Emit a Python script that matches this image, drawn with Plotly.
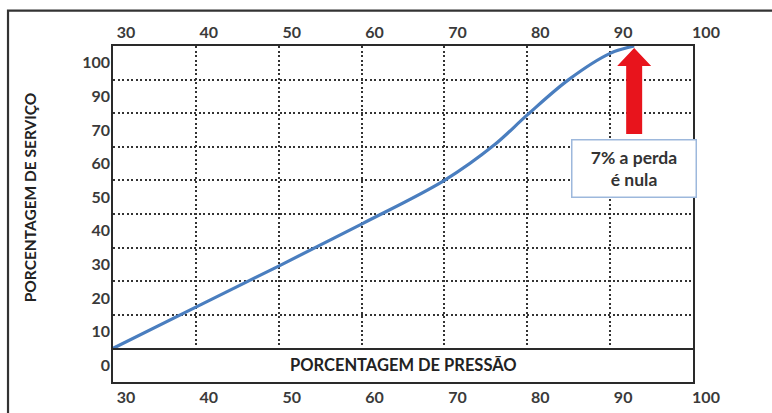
import plotly.graph_objects as go

# Data
pressure = [30, 40, 50, 60, 70, 76, 80, 85, 90, 92.9]          # PORCENTAGEM DE PRESSÃO
service = [10, 22.3, 34.5, 47, 60, 70.5, 79.5, 90, 97.8, 100]   # PORCENTAGEM DE SERVIÇO

x_ticks = [30, 40, 50, 60, 70, 80, 90, 100]
x_labels = ["30", "40", "50", "60", "70", "80", "90", "100"]
y_tick_pos = [15, 25, 35, 45, 55, 65, 75, 85, 95]
y_labels = ["10", "20", "30", "40", "50", "60", "70", "90", "100"]
y_grid = [20, 30, 40, 50, 60, 70, 80, 90]
bottom_label = ["0"]

FONT = "Lato"
TICK_COLOR = "#3a3a3a"
LINE_COLOR = "#2a2a2a"
GRID_COLOR = "#333333"
DASH = "2px,2.5px"

fig = go.Figure()
fig.add_trace(go.Scatter(
    x=pressure, y=service, mode="lines",
    line=dict(color="#4a7ebf", width=3.2, shape="spline", smoothing=1.0),
    xaxis="x", yaxis="y", showlegend=False, hoverinfo="skip",
))
fig.add_trace(go.Scatter(x=[None], y=[None], xaxis="x2", yaxis="y2",
                         showlegend=False, hoverinfo="skip"))

tickfont = dict(family=FONT, size=16, color=TICK_COLOR, weight="bold")
common = dict(ticks="", zeroline=False, fixedrange=True, automargin=False,
              linecolor=LINE_COLOR, linewidth=1.6, showline=True)

fig.update_layout(
    width=772, height=413,
    margin=dict(l=113, r=79, t=46, b=31),
    paper_bgcolor="white", plot_bgcolor="white",
    showlegend=False,
    xaxis=dict(
        domain=[0, 1], anchor="y", side="top", range=[30, 100],
        tickmode="array", tickvals=x_ticks, ticktext=x_labels,
        ticklabelshift=13, ticklabelstandoff=0,
        tickfont=tickfont,
        showgrid=True, gridcolor=GRID_COLOR, griddash=DASH, gridwidth=1.5,
        mirror=True, **common,
    ),
    yaxis=dict(
        domain=[0.1, 1], anchor="x", range=[10, 100],
        tickmode="array", tickvals=y_tick_pos, ticktext=y_labels,
        tickfont=tickfont, showgrid=False, ticklabelstandoff=-2,
        minor=dict(tickmode="array", tickvals=y_grid, showgrid=True,
                   gridcolor=GRID_COLOR, griddash=DASH, gridwidth=1.5, ticks=""),
        mirror=True, **common,
    ),
    xaxis2=dict(
        domain=[0, 1], anchor="y2", side="bottom", range=[30, 100],
        tickmode="array", tickvals=x_ticks, ticktext=x_labels,
        ticklabelshift=13, ticklabelstandoff=0,
        tickfont=tickfont, showgrid=False,
        mirror=False, **common,
    ),
    yaxis2=dict(
        domain=[0, 0.1], anchor="x2", range=[0, 10],
        tickmode="array", tickvals=[5], ticktext=bottom_label,
        tickfont=tickfont, showgrid=False, ticklabelstandoff=-2,
        mirror=True, **common,
    ),
)

# Outer frame of the figure
fig.add_shape(type="rect", xref="paper", yref="paper",
              x0=-0.181, x1=1.25, y0=-0.3, y1=1.105,
              line=dict(color="#333333", width=2.2), fillcolor="rgba(0,0,0,0)",
              layer="above")

# Red arrow pointing at the end of the curve (pixel path anchored on last point)
fig.add_shape(type="path", xref="x", yref="y",
              xsizemode="pixel", ysizemode="pixel",
              xanchor=pressure[-1], yanchor=service[-1],
              path="M 0,-2 L 17,-20 L 8,-20 L 8,-88 L -8,-88 L -8,-20 L -17,-20 Z",
              fillcolor="#e8141c", line=dict(color="#e8141c", width=0),
              layer="above")

# Axis titles
fig.add_annotation(text="PORCENTAGEM DE SERVIÇO", textangle=-90,
                   xref="paper", yref="paper", x=-0.143, y=0.55,
                   xanchor="center", yanchor="middle", showarrow=False,
                   font=dict(family=FONT, size=15.5, color="#222222", weight="bold"))
fig.add_annotation(text="PORCENTAGEM DE PRESSÃO",
                   xref="paper", yref="y2", x=0.5, y=5,
                   xanchor="center", yanchor="middle", showarrow=False,
                   font=dict(family=FONT, size=16.5, color="#222222", weight="bold"))

# Callout box
fig.add_annotation(text="7% a perda<br>é nula",
                   xref="x", yref="y", x=pressure[-1], y=63.4,
                   xanchor="center", yanchor="middle", showarrow=False,
                   width=117, height=50, borderpad=3,
                   bordercolor="#9db8dc", borderwidth=1.5, bgcolor="white",
                   font=dict(family=FONT, size=17.5, color="#333333", weight="bold"))

fig.write_html("out.html", config={"displayModeBar": False},
               post_script="document.body.style.margin='0px';document.body.style.overflow='hidden';")
